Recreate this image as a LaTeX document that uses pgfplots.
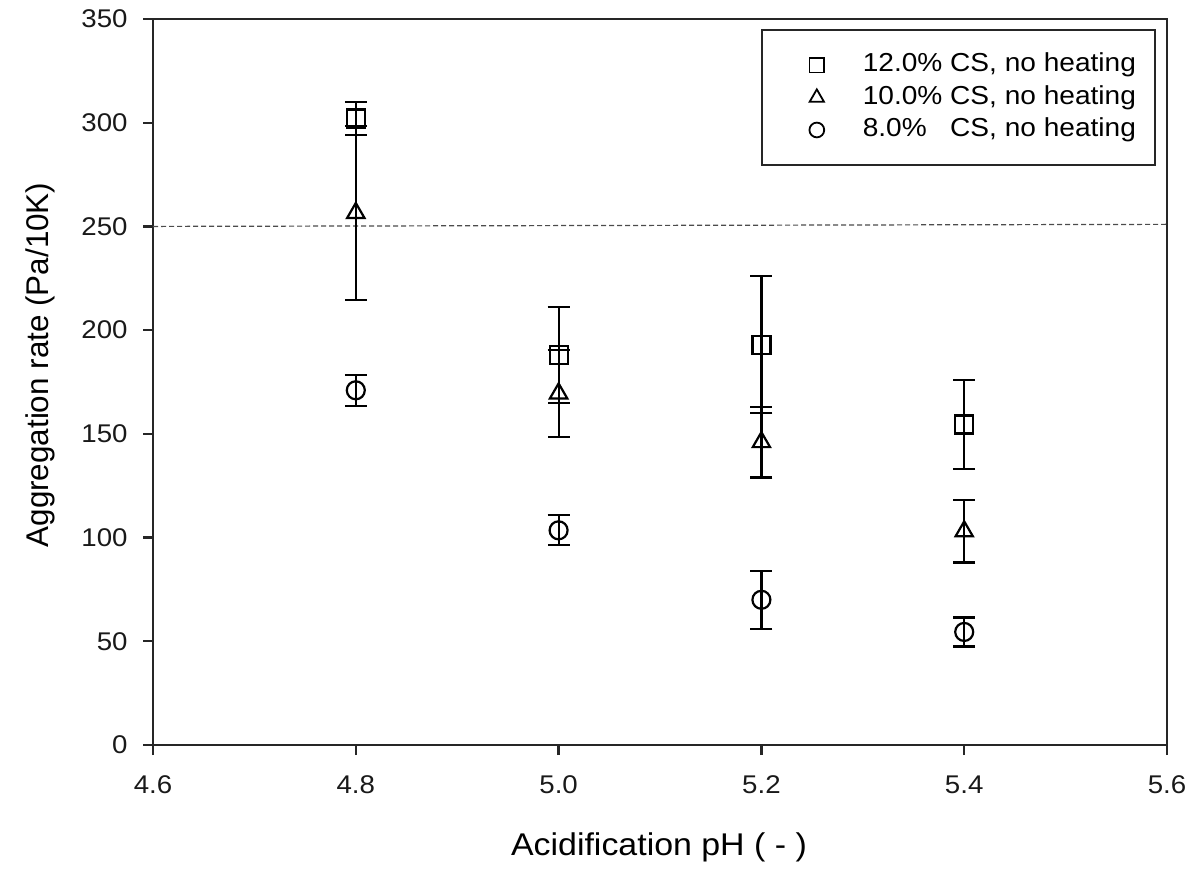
\documentclass[border=0pt]{standalone}
\usepackage{pgfplots}
\pgfplotsset{compat=1.18}
\usepackage{fontspec}
\setmainfont[FakeStretch=1.08]{Liberation Sans}
\newfontfamily\ylabfont{Liberation Sans}

\pgfplotstableread{
x y e
4.8 302 8
5.0 188 23
5.2 193 33
5.4 154.5 21.5
}\sqdata
\pgfplotstableread{
x y e
4.8 256.5 42
5.0 169.5 21
5.2 146 17
5.4 103 15
}\tridata
\pgfplotstableread{
x y e
4.8 171 7.5
5.0 103.5 7.2
5.2 70 14
5.4 54.5 7
}\circdata

\begin{document}
\begin{tikzpicture}
\path[use as bounding box] (-76.5pt,-63pt) rectangle (522pt,372.5pt);
\begin{axis}[
  scale only axis, width=507pt, height=363pt,
  xmin=4.6, xmax=5.6, ymin=0, ymax=350,
  xtick={4.6,4.8,5.0,5.2,5.4,5.6},
  xticklabels={4.6,4.8,5.0,5.2,5.4,5.6},
  ytick={0,50,100,150,200,250,300,350},
  yticklabels={0,50,100,150,200,250,300,350},
  xtick pos=bottom, ytick pos=left,
  tick align=outside, major tick length=5pt,
  axis line style={line width=1.2pt, black!85},
  tick style={line width=1.2pt, black!85},
  tick label style={font=\fontsize{12.8}{15}\selectfont, text=black!90},
  xticklabel style={anchor=north, inner sep=0pt, yshift=-10pt},
  yticklabel style={anchor=east, inner sep=0pt, xshift=-7.5pt},
  legend image code/.code={%
    \path[draw=none, fill=none] (-20pt,-4pt) rectangle (21pt,4pt);
    \draw[#1, line width=0.9pt, every mark/.append style={scale=0.82}] plot coordinates {(0pt,0pt)};},
  legend style={at={(rel axis cs:1,1)}, anchor=north east, xshift=-5.5pt, yshift=-5pt,
    draw=black!85, line width=1pt, inner xsep=7.5pt, inner ysep=11.5pt, row sep=4pt,
    font=\fontsize{13}{15.6}\selectfont,
    nodes={inner ysep=0pt, text height=9.5pt, text depth=2.7pt}},
  legend cell align=left,
  error bars/error bar style={line width=1.1pt, black},
  error bars/error mark options={black, line width=1.1pt, mark size=5.5pt, rotate=90},
]
\addplot[forget plot, black!70, line width=0.6pt, dash pattern=on 2.5pt off 1.5pt]
  coordinates {(4.6,250) (5.6,251)};
\addplot[black, line width=1.1pt, only marks, mark=square, mark size=4.5pt, mark options={fill=white, solid},
  error bars/.cd, y dir=both, y explicit]
  table[x=x, y=y, y error=e] {\sqdata};
\addlegendentry{12.0\% CS, no heating}
\addplot[black, line width=1.1pt, only marks, mark=triangle, mark size=5pt, mark options={fill=white, solid},
  error bars/.cd, y dir=both, y explicit]
  table[x=x, y=y, y error=e] {\tridata};
\addlegendentry{10.0\% CS, no heating}
\addplot[black, line width=1.1pt, only marks, mark=o, mark size=4.5pt, mark options={fill=white, solid},
  error bars/.cd, y dir=both, y explicit]
  table[x=x, y=y, y error=e] {\circdata};
\addlegendentry{8.0\%\phantom{0} CS, no heating}
\end{axis}
\node[anchor=base, font=\fontsize{15.7}{18}\selectfont] at (253pt,-55pt) {Acidification pH ( - )};
\node[rotate=90, anchor=base, font=\ylabfont\fontsize{15.7}{18}\selectfont] at (-52pt,190pt) {Aggregation rate (Pa/10K)};
\end{tikzpicture}
\end{document}
